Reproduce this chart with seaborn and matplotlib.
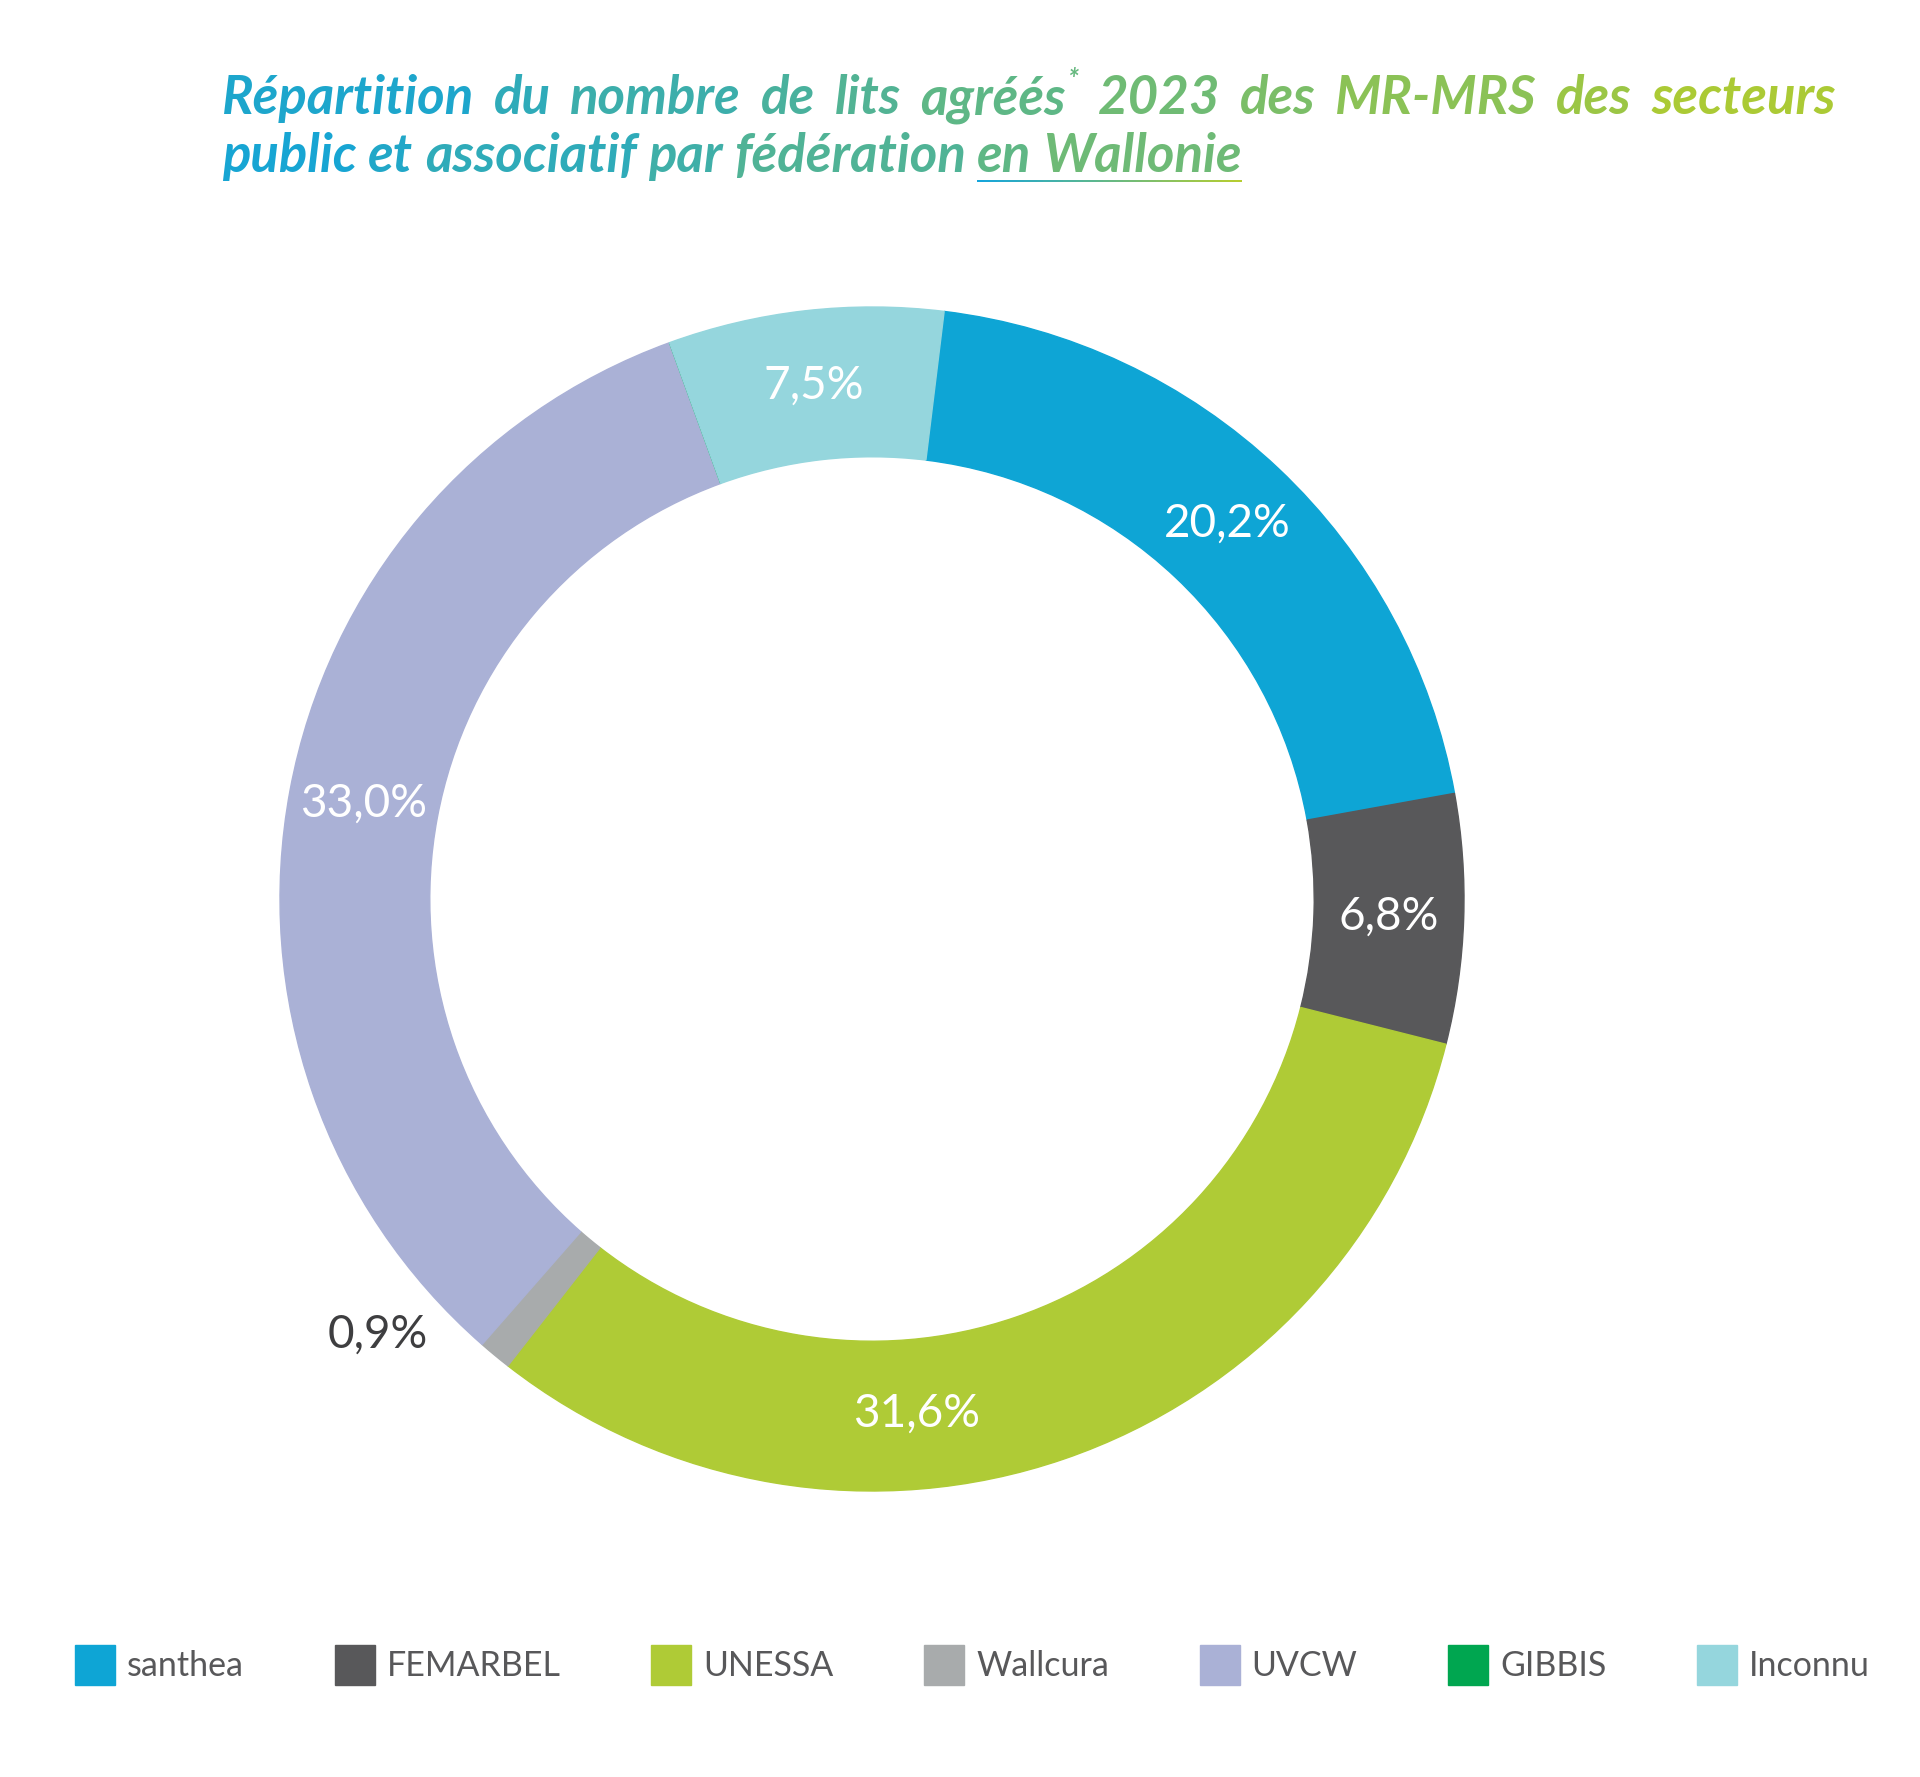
import numpy as np
import matplotlib.pyplot as plt
import seaborn as sns
from matplotlib.colors import to_rgb

# Data
federations = ["santhea", "FEMARBEL", "UNESSA", "Wallcura", "UVCW", "GIBBIS", "Inconnu"]
shares = [20.2, 6.8, 31.6, 0.9, 33.0, 0.0, 7.5]
share_labels = ["20,2%", "6,8%", "31,6%", "0,9%", "33,0%", "", "7,5%"]
fed_colors = ["#0ea5d5", "#58585a", "#afcb36", "#a8abac", "#aab1d6", "#00a650", "#95d6dd"]

title_line1 = ["Répartition", "du", "nombre", "de", "lits", "agréés*", "2023",
               "des", "MR-MRS", "des", "secteurs"]
title_line2 = ["public", "et", "associatif", "par", "fédération", "en", "Wallonie"]

sns.set_theme(style="white")
plt.rcParams["font.family"] = ["Lato", "DejaVu Sans"]
palette = sns.color_palette(fed_colors)

W, H = 1920, 1777
fig = plt.figure(figsize=(W / 100, H / 100), dpi=100)
fig.patch.set_facecolor("white")
renderer = fig.canvas.get_renderer()


def fx(px):
    return px / W


def fy(py):
    return 1 - py / H


# ---- donut ----
cx, cy, R = 872, 899, 592
ax = fig.add_axes([fx(cx - R), fy(cy + R), 2 * R / W, 2 * R / H])
wedges, _ = ax.pie(shares, colors=palette, startangle=83, counterclock=False,
                   radius=1, wedgeprops=dict(width=0.253, linewidth=1))
for w in wedges:
    w.set_edgecolor(w.get_facecolor())
ax.set_xlim(-1, 1)
ax.set_ylim(-1, 1)

# small angular nudges so labels sit where the original puts them
nudge = {"UNESSA": -14, "Wallcura": -9}
for name, val, lab, w in zip(federations, shares, share_labels, wedges):
    if not lab:
        continue
    mid = np.deg2rad((w.theta1 + w.theta2) / 2 + nudge.get(name, 0))
    if val >= 2:
        r, col = 0.873, "white"
    else:
        r, col = 1.113, "#3e3e40"
    ax.text(r * np.cos(mid), r * np.sin(mid), lab, ha="center", va="center",
            fontsize=33, color=col)

# ---- title with horizontal gradient ----
c0 = np.array(to_rgb("#10a3da"))
c1 = np.array(to_rgb("#b4cc2b"))
x_left, x_right = 222, 1836
tsize = 38


def grad(px):
    t = np.clip((px - x_left) / (x_right - x_left), 0, 1)
    return tuple(c0 + (c1 - c0) * t)


def measure(s, size=tsize):
    t = fig.text(0, 0, s, fontsize=size, fontweight="bold", fontstyle="italic")
    w = t.get_window_extent(renderer).width
    t.remove()
    return w


def word_w(word):
    if word.endswith("*"):
        return measure(word[:-1]) + measure("*", 20) + 2
    return measure(word)


def draw_word(word, x, base):
    star = word.endswith("*")
    core = word[:-1] if star else word
    w = measure(core)
    fig.text(fx(x), fy(base), core, fontsize=tsize, fontweight="bold",
             fontstyle="italic", color=grad(x + w / 2), va="baseline")
    if star:
        fig.text(fx(x + w + 2), fy(base - 26), "*", fontsize=20, fontweight="bold",
                 fontstyle="italic", color=grad(x + w), va="baseline")


# line 1 justified
base1, base2 = 114, 172
widths = [word_w(wd) for wd in title_line1]
gap = (x_right - x_left - sum(widths)) / (len(title_line1) - 1)
x = x_left
for wd, ww in zip(title_line1, widths):
    draw_word(wd, x, base1)
    x += ww + gap

# line 2 natural spacing
space = measure("a a") - measure("aa")
x = x_left
ul_start = ul_end = None
for wd in title_line2:
    ww = word_w(wd)
    if wd == "en":
        ul_start = x
    draw_word(wd, x, base2)
    x += ww
    if wd == "Wallonie":
        ul_end = x
    x += space

# underline of "en Wallonie", gradient blue -> green
n_seg = 40
xs = np.linspace(ul_start, ul_end, n_seg + 1)
for i in range(n_seg):
    t = i / (n_seg - 1)
    col = tuple(c0 + (c1 - c0) * t)
    fig.add_artist(plt.Line2D([fx(xs[i]), fx(xs[i + 1])], [fy(base2 + 9)] * 2,
                              transform=fig.transFigure, color=col, lw=1.4,
                              solid_capstyle="butt"))

# ---- legend ----
fig.legend(wedges, federations, loc="center", bbox_to_anchor=(0.5065, fy(1665)),
           ncol=7, frameon=False, prop={"family": "Lato", "size": 24.5},
           labelcolor="#58585a", handlelength=1.18, handleheight=1.43,
           handletextpad=0.35, columnspacing=2.66, borderpad=0)

fig.savefig("out.png", dpi=100, facecolor="white")
